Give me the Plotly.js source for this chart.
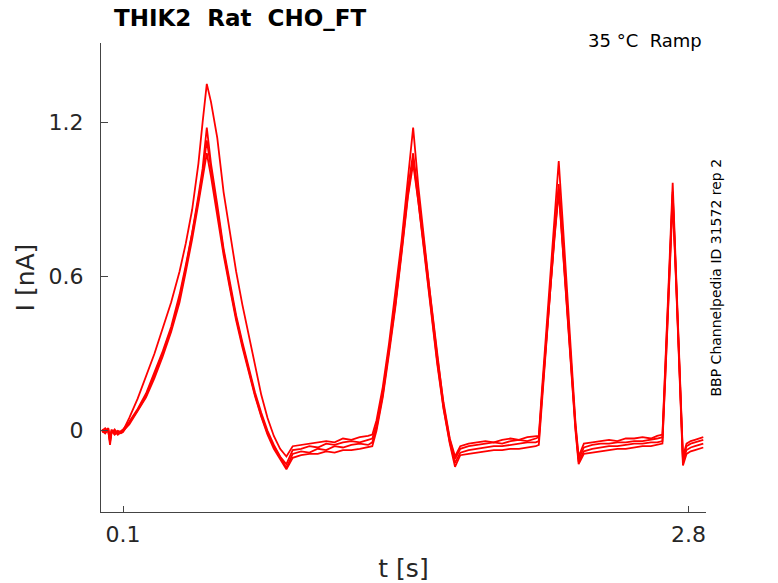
<!DOCTYPE html>
<html>
<head>
<meta charset="utf-8">
<script src="https://cdn.plot.ly/plotly-3.0.1.min.js"></script>
<style>
  body { margin: 0; background: #fff; }
  #plotlyChart { width: 778px; height: 583px; }
</style>
</head>
<body>
<div id="plotlyChart"></div>
<script>
// time points [s], shared by all sweeps
const time = [
    0, 0.015, 0.03, 0.038, 0.045, 0.06, 0.075, 0.09, 0.1,
    0.13, 0.17, 0.21, 0.25, 0.29, 0.33, 0.37, 0.40, 0.43, 0.46, 0.48, 0.50,
    0.52, 0.55, 0.58, 0.61, 0.64, 0.67, 0.70, 0.73, 0.76, 0.79, 0.82, 0.85, 0.88,
    0.91, 0.95, 0.99, 1.03, 1.07, 1.11, 1.15, 1.19, 1.23, 1.27, 1.29,
    1.31, 1.34, 1.37, 1.40, 1.43, 1.46, 1.485,
    1.51, 1.54, 1.57, 1.60, 1.63, 1.66, 1.685,
    1.71, 1.75, 1.79, 1.83, 1.87, 1.91, 1.95, 1.99, 2.03, 2.07, 2.085,
    2.10, 2.12, 2.14, 2.16, 2.18,
    2.20, 2.22, 2.24, 2.26, 2.275,
    2.30, 2.34, 2.38, 2.42, 2.46, 2.50, 2.54, 2.58, 2.62, 2.65, 2.675,
    2.69, 2.707, 2.724,
    2.74, 2.757, 2.773,
    2.79, 2.81, 2.83, 2.85, 2.87
];

// current [nA], one array per sweep
const sweepA = [
    0, 0.01, -0.005, -0.04, 0.005, -0.01, 0.0, -0.005, 0.0,
    0.05, 0.125, 0.21, 0.30, 0.40, 0.50, 0.62, 0.73, 0.86, 1.04, 1.20, 1.35,
    1.28, 1.14, 0.93, 0.77, 0.62, 0.49, 0.37, 0.25, 0.14, 0.05, -0.02, -0.07, -0.10,
    -0.06, -0.055, -0.05, -0.045, -0.04, -0.045, -0.03, -0.035, -0.025, -0.02, -0.015,
    0.04, 0.17, 0.34, 0.53, 0.74, 0.98, 1.18,
    0.95, 0.72, 0.50, 0.29, 0.11, -0.03, -0.10,
    -0.06, -0.05, -0.045, -0.04, -0.045, -0.035, -0.03, -0.035, -0.025, -0.02, -0.02,
    0.16, 0.39, 0.61, 0.83, 1.05,
    0.80, 0.53, 0.27, 0.03, -0.10,
    -0.05, -0.045, -0.04, -0.035, -0.04, -0.03, -0.03, -0.025, -0.03, -0.02, -0.015,
    0.26, 0.62, 0.965,
    0.62, 0.25, -0.10,
    -0.05, -0.04, -0.035, -0.03, -0.025
];
const sweepB = [
    0.005, -0.005, 0.0, -0.055, -0.01, 0.005, -0.01, 0.0, 0.005,
    0.035, 0.085, 0.145, 0.225, 0.31, 0.405, 0.53, 0.645, 0.77, 0.915, 1.02, 1.18,
    1.04, 0.88, 0.71, 0.58, 0.45, 0.345, 0.245, 0.15, 0.07, 0.0, -0.055, -0.10, -0.13,
    -0.075, -0.07, -0.06, -0.065, -0.05, -0.055, -0.045, -0.04, -0.045, -0.035, -0.03,
    0.02, 0.15, 0.32, 0.50, 0.71, 0.94, 1.08,
    0.91, 0.70, 0.49, 0.28, 0.10, -0.035, -0.11,
    -0.07, -0.06, -0.055, -0.05, -0.045, -0.05, -0.04, -0.035, -0.04, -0.03, -0.025,
    0.14, 0.36, 0.57, 0.77, 0.96,
    0.73, 0.50, 0.26, 0.02, -0.11,
    -0.065, -0.055, -0.05, -0.05, -0.045, -0.045, -0.04, -0.04, -0.035, -0.03, -0.025,
    0.25, 0.60, 0.93,
    0.60, 0.23, -0.11,
    -0.06, -0.05, -0.045, -0.04, -0.035
];
const sweepC = [
    -0.005, 0.0, 0.01, -0.03, 0.0, -0.015, -0.005, -0.01, -0.005,
    0.03, 0.08, 0.135, 0.215, 0.30, 0.395, 0.515, 0.635, 0.76, 0.90, 1.00, 1.13,
    1.02, 0.86, 0.70, 0.565, 0.44, 0.335, 0.235, 0.14, 0.06, -0.01, -0.06, -0.105, -0.145,
    -0.09, -0.08, -0.085, -0.07, -0.075, -0.06, -0.065, -0.055, -0.05, -0.055, -0.045,
    0.01, 0.14, 0.31, 0.49, 0.70, 0.92, 1.06,
    0.90, 0.69, 0.48, 0.27, 0.09, -0.045, -0.125,
    -0.085, -0.075, -0.07, -0.065, -0.06, -0.06, -0.055, -0.05, -0.045, -0.045, -0.04,
    0.13, 0.35, 0.56, 0.76, 0.94,
    0.71, 0.48, 0.25, 0.01, -0.12,
    -0.08, -0.07, -0.065, -0.06, -0.06, -0.055, -0.05, -0.05, -0.045, -0.045, -0.04,
    0.24, 0.59, 0.92,
    0.59, 0.22, -0.12,
    -0.075, -0.065, -0.06, -0.055, -0.05
];
const sweepD = [
    0.0, -0.01, 0.005, -0.045, -0.005, 0.0, -0.015, -0.005, 0.0,
    0.025, 0.075, 0.13, 0.205, 0.29, 0.385, 0.50, 0.62, 0.745, 0.885, 0.98, 1.08,
    0.99, 0.84, 0.685, 0.555, 0.43, 0.325, 0.23, 0.135, 0.055, -0.015, -0.07, -0.11, -0.15,
    -0.105, -0.095, -0.09, -0.09, -0.08, -0.085, -0.075, -0.075, -0.07, -0.065, -0.06,
    0.0, 0.13, 0.30, 0.48, 0.69, 0.91, 1.04,
    0.89, 0.68, 0.47, 0.26, 0.085, -0.05, -0.14,
    -0.095, -0.09, -0.085, -0.08, -0.075, -0.075, -0.07, -0.07, -0.065, -0.06, -0.055,
    0.12, 0.34, 0.55, 0.75, 0.93,
    0.70, 0.47, 0.24, 0.0, -0.13,
    -0.09, -0.085, -0.08, -0.075, -0.07, -0.07, -0.065, -0.06, -0.06, -0.055, -0.05,
    0.23, 0.58, 0.90,
    0.58, 0.21, -0.135,
    -0.09, -0.08, -0.075, -0.07, -0.065
];

const xTickVals = [0.1, 2.8];
const yTickVals = [0, 0.6, 1.2];
const yTickText = ['0', '0.6', '1.2'];

const axisColor = '#444444';
const textColor = '#262626';


function makeTrace(values) {
    return {
        x: time,
        y: values,
        type: 'scatter',
        mode: 'lines',
        line: { color: '#ff0000', width: 1.8 },
        hoverinfo: 'skip'
    };
}


function plotSweeps() {
    const traces = [sweepA, sweepB, sweepC, sweepD].map(makeTrace);

    const layout = {
        width: 778,
        height: 583,
        margin: { l: 101, r: 72, t: 43, b: 71 },
        paper_bgcolor: '#ffffff',
        plot_bgcolor: '#ffffff',
        showlegend: false,
        font: { family: 'DejaVu Sans, sans-serif', color: textColor },
        title: {
            text: 'THIK2\u00a0 Rat\u00a0 CHO_FT',
            xref: 'container',
            yref: 'container',
            x: 114 / 778,
            xanchor: 'left',
            y: 1 - 18 / 583,
            yanchor: 'middle',
            font: { family: 'DejaVu Sans, sans-serif', size: 23, color: '#000000', weight: 'bold' }
        },
        xaxis: {
            range: [-0.005, 2.883],
            tickmode: 'array',
            tickvals: xTickVals,
            ticks: 'inside',
            ticklen: 6,
            tickcolor: axisColor,
            showline: true,
            linecolor: axisColor,
            linewidth: 1,
            showgrid: false,
            zeroline: false,
            ticklabelstandoff: 3,
            tickfont: { size: 22, color: textColor },
            title: { text: 't [s]', font: { size: 25, color: textColor }, standoff: 16 }
        },
        yaxis: {
            range: [-0.316, 1.509],
            tickmode: 'array',
            tickvals: yTickVals,
            ticktext: yTickText,
            ticks: 'inside',
            ticklen: 7,
            tickcolor: axisColor,
            showline: true,
            linecolor: axisColor,
            linewidth: 1,
            showgrid: false,
            zeroline: false,
            ticklabelstandoff: 12,
            tickfont: { size: 22, color: textColor },
            title: { text: 'I [nA]', font: { size: 25, color: textColor }, standoff: 6 }
        },
        annotations: [
            {
                text: '35 °C\u00a0 Ramp',
                xref: 'paper', yref: 'paper',
                x: 0.996, y: 1.006,
                xanchor: 'right', yanchor: 'middle',
                showarrow: false,
                font: { size: 18, color: '#000000' }
            },
            {
                text: 'BBP Channelpedia ID 31572 rep 2',
                xref: 'paper', yref: 'paper',
                x: 1.0165, y: 0.5,
                xanchor: 'center', yanchor: 'middle',
                textangle: -90,
                showarrow: false,
                font: { size: 14, color: '#000000' }
            }
        ]
    };

    const config = { displayModeBar: false, staticPlot: true };

    Plotly.newPlot('plotlyChart', traces, layout, config);
}


document.addEventListener('DOMContentLoaded', plotSweeps);
</script>
</body>
</html>
